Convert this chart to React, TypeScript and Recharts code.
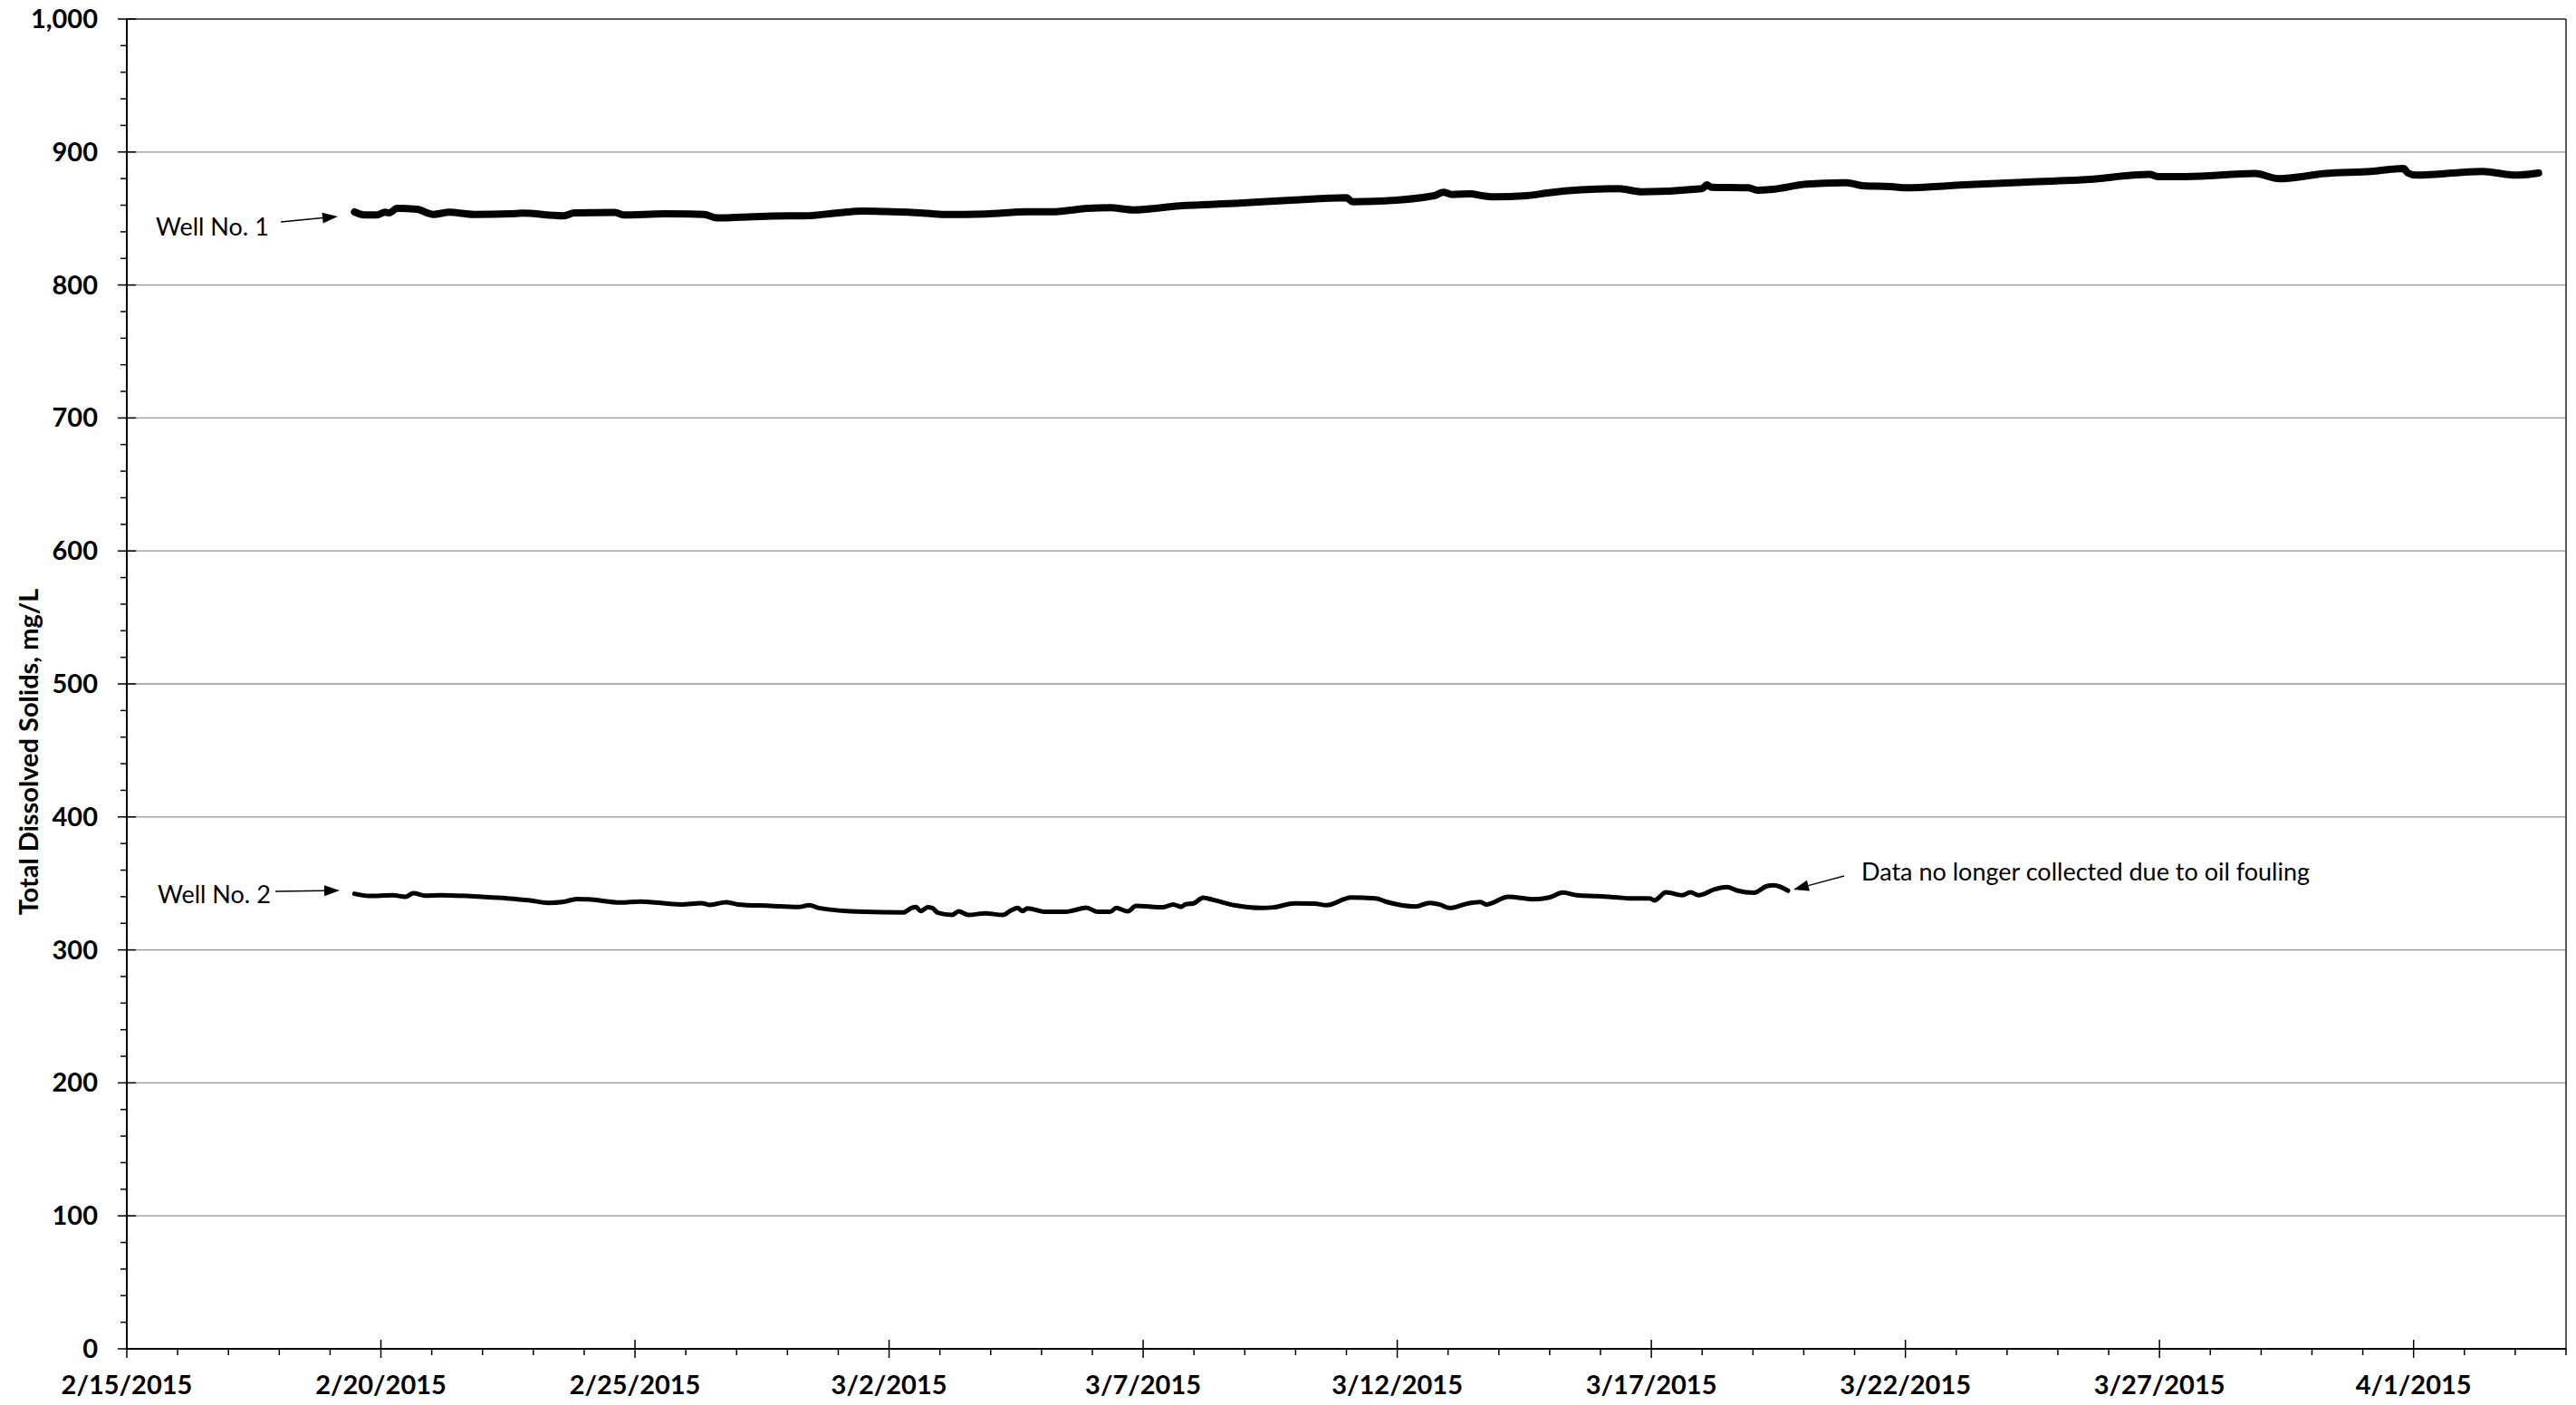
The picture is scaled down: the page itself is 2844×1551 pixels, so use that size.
import React from "react";
import {
  CartesianGrid,
  Line,
  LineChart,
  ReferenceLine,
  XAxis,
  YAxis,
} from "recharts";

const FONT = "Lato, 'Open Sans', sans-serif";

// x axis is days since 2/15/2015
const xTickDays = [0, 5, 10, 15, 20, 25, 30, 35, 40, 45];
const xTickLabels = [
  "2/15/2015",
  "2/20/2015",
  "2/25/2015",
  "3/2/2015",
  "3/7/2015",
  "3/12/2015",
  "3/17/2015",
  "3/22/2015",
  "3/27/2015",
  "4/1/2015",
];
const yMajorTicks = [0, 100, 200, 300, 400, 500, 600, 700, 800, 900, 1000];
const yTickLabels = ["0", "100", "200", "300", "400", "500", "600", "700", "800", "900", "1,000"];

const xMinorTicks = Array.from({ length: 49 }, (_, i) => i);
const yMinorTicks = Array.from({ length: 51 }, (_, i) => i * 20);

const well1Days = [
  4.48, 4.68, 4.92, 5.08, 5.16, 5.32, 5.71, 6.03, 6.35, 6.83,
  7.55, 7.78, 8.58, 8.81, 9.61, 9.77, 10.58, 11.36, 11.61, 12.31,
  12.7, 13.36, 14.0, 14.48, 14.96, 15.62, 16.1, 16.9, 17.72, 18.2,
  18.69, 18.9, 19.35, 19.81, 20.72, 21.89, 22.99, 24.0, 24.12, 24.53,
  25.73, 25.91, 26.08, 26.45, 26.63, 26.9, 27.55, 27.99, 29.36, 29.81,
  31.0, 31.09, 31.18, 31.91, 32.09, 32.33, 33.05, 33.84, 34.16, 34.72,
  34.96, 36.16, 37.3, 38.54, 39.81, 39.97, 40.52, 41.88, 42.36, 43.26,
  44.16, 44.8, 44.89, 45.05, 46.35, 47.01, 47.46,
];
const well1Tds = [
  854.9, 852.7, 852.7, 854.7, 854.2, 857.6, 856.9, 853.1, 854.7, 853.1,
  853.5, 854.0, 852.0, 854.2, 854.5, 852.7, 853.5, 853.1, 850.4, 851.3,
  851.9, 852.0, 854.3, 855.6, 855.2, 854.3, 853.0, 853.4, 855.0, 855.0,
  856.8, 857.6, 858.1, 856.5, 859.5, 861.5, 864.0, 865.6, 862.6, 862.9,
  867.2, 869.7, 868.1, 868.6, 867.4, 866.3, 867.2, 869.4, 872.4, 870.1,
  872.4, 875.3, 873.5, 873.1, 871.3, 871.7, 875.8, 876.9, 874.7, 874.0,
  873.1, 875.3, 877.2, 879.2, 883.1, 881.5, 881.5, 883.8, 879.9, 883.8,
  885.4, 887.6, 884.2, 882.6, 885.4, 882.6, 884.2,
];

const well2Days = [
  4.48, 4.76, 5.24, 5.48, 5.64, 5.87, 6.19, 6.99, 7.49, 7.94,
  8.29, 8.6, 8.85, 9.08, 9.72, 10.11, 10.91, 11.31, 11.47, 11.79,
  12.02, 12.66, 13.21, 13.43, 13.62, 14.5, 15.28, 15.44, 15.53, 15.62,
  15.76, 15.85, 15.96, 16.24, 16.37, 16.56, 16.89, 17.24, 17.4, 17.53,
  17.63, 17.72, 18.08, 18.47, 18.63, 18.88, 19.11, 19.35, 19.47, 19.7,
  19.86, 20.39, 20.59, 20.75, 20.83, 20.99, 21.18, 21.38, 21.79, 22.34,
  22.57, 22.98, 23.37, 23.61, 24.09, 24.57, 24.8, 25.36, 25.64, 25.83,
  26.03, 26.4, 26.64, 26.75, 27.19, 27.67, 27.99, 28.26, 28.54, 28.94,
  29.35, 29.58, 29.97, 30.06, 30.29, 30.61, 30.77, 30.93, 31.25, 31.49,
  31.7, 32.02, 32.27, 32.41, 32.69,
];
const well2Tds = [
  342.2, 340.6, 341.1, 339.9, 342.6, 340.8, 341.1, 339.9, 338.8, 337.2,
  335.4, 336.2, 338.3, 338.0, 335.6, 336.4, 334.2, 335.2, 333.8, 335.9,
  334.2, 333.1, 332.2, 333.6, 331.5, 328.6, 328.1, 331.5, 332.2, 329.2,
  332.0, 331.5, 327.9, 326.3, 329.0, 326.3, 327.5, 326.3, 329.7, 331.5,
  329.2, 331.3, 328.6, 328.6, 329.7, 331.7, 328.6, 328.6, 331.5, 329.0,
  333.1, 332.0, 334.2, 332.4, 334.2, 335.0, 339.2, 337.6, 333.6, 331.5,
  332.0, 335.0, 334.8, 333.6, 339.4, 338.8, 336.0, 332.6, 335.4, 334.2,
  331.5, 335.0, 336.0, 334.2, 339.9, 338.1, 339.4, 343.1, 341.1, 340.4,
  339.4, 338.8, 338.8, 337.2, 343.3, 341.1, 343.3, 341.1, 345.6, 347.2,
  344.5, 342.9, 347.9, 348.6, 344.5,
];

const well1Data = well1Days.map((day, i) => ({ day, tds: well1Tds[i] }));
const well2Data = well2Days.map((day, i) => ({ day, tds: well2Tds[i] }));

const XTick = (props: any) => {
  const { x, y, payload } = props;
  const idx = xTickDays.indexOf(payload.value);
  const major = idx >= 0;
  return (
    <g>
      <line
        x1={x}
        x2={x}
        y1={major ? y - 10 : y}
        y2={major ? y + 10 : y + 7}
        stroke="#000"
        strokeWidth={1.5}
      />
      {major && (
        <text
          x={x}
          y={y + 50}
          textAnchor="middle"
          fontFamily={FONT}
          fontWeight={700}
          fontSize={29}
          fill="#000"
        >
          {xTickLabels[idx]}
        </text>
      )}
    </g>
  );
};

const YTick = (props: any) => {
  const { x, y, payload } = props;
  const idx = yMajorTicks.indexOf(payload.value);
  const major = idx >= 0;
  return (
    <g>
      <line
        x1={major ? x - 10 : x - 7}
        x2={major ? x + 10 : x}
        y1={y}
        y2={y}
        stroke="#000"
        strokeWidth={1.5}
      />
      {major && (
        <text
          x={x - 32}
          y={y + 10}
          textAnchor="end"
          fontFamily={FONT}
          fontWeight={700}
          fontSize={29}
          fill="#000"
        >
          {yTickLabels[idx]}
        </text>
      )}
    </g>
  );
};

const Arrow = ({ x1, y1, x2, y2 }: { x1: number; y1: number; x2: number; y2: number }) => {
  const a = Math.atan2(y2 - y1, x2 - x1);
  const len = 17;
  const hw = 6;
  const bx = x2 - len * Math.cos(a);
  const by = y2 - len * Math.sin(a);
  const px = -Math.sin(a) * hw;
  const py = Math.cos(a) * hw;
  return (
    <g>
      <line x1={x1} y1={y1} x2={bx} y2={by} stroke="#000" strokeWidth={1.5} />
      <polygon
        points={`${x2},${y2} ${bx + px},${by + py} ${bx - px},${by - py}`}
        fill="#000"
      />
    </g>
  );
};

const noteStyle = { fontFamily: FONT, fontSize: 27, fill: "#000" };

export default function App() {
  return (
    <div
      style={{
        position: "absolute",
        left: 0,
        top: 0,
        width: 2844,
        height: 1551,
        background: "#fff",
      }}
    >
      <LineChart
        width={2844}
        height={1551}
        margin={{ top: 21, right: 11, bottom: 0, left: 0 }}
      >
        <CartesianGrid
          vertical={false}
          horizontalValues={[100, 200, 300, 400, 500, 600, 700, 800, 900]}
          stroke="#939393"
          strokeWidth={1.3}
        />
        <XAxis
          type="number"
          dataKey="day"
          domain={[0, 48]}
          ticks={xMinorTicks}
          interval={0}
          tick={<XTick />}
          tickLine={false}
          tickSize={0}
          tickMargin={0}
          height={62}
          axisLine={{ stroke: "#000", strokeWidth: 2 }}
          allowDataOverflow
        />
        <YAxis
          type="number"
          domain={[0, 1000]}
          ticks={yMinorTicks}
          interval={0}
          tick={<YTick />}
          tickLine={false}
          tickSize={0}
          tickMargin={0}
          width={140}
          axisLine={{ stroke: "#000", strokeWidth: 2 }}
        />
        <ReferenceLine y={1000} stroke="#222" strokeWidth={1.5} />
        <ReferenceLine x={48} stroke="#222" strokeWidth={1.5} />
        <Line
          data={well2Data}
          dataKey="tds"
          type="monotone"
          stroke="#000"
          strokeWidth={5}
          strokeLinecap="round"
          strokeLinejoin="round"
          dot={false}
          isAnimationActive={false}
        />
        <Line
          data={well1Data}
          dataKey="tds"
          type="monotone"
          stroke="#000"
          strokeWidth={8}
          strokeLinecap="round"
          strokeLinejoin="round"
          dot={false}
          isAnimationActive={false}
        />
      </LineChart>
      <svg
        width={2844}
        height={1551}
        style={{ position: "absolute", left: 0, top: 0, pointerEvents: "none" }}
      >
        <text
          transform="translate(42, 830) rotate(-90)"
          textAnchor="middle"
          fontFamily={FONT}
          fontWeight={700}
          fontSize={29}
          fill="#000"
        >
          Total Dissolved Solids, mg/L
        </text>
        <text x={172} y={260} {...noteStyle}>
          Well No. 1
        </text>
        <Arrow x1={310} y1={245} x2={373} y2={239} />
        <text x={174} y={997} {...noteStyle}>
          Well No. 2
        </text>
        <Arrow x1={304} y1={984} x2={375} y2={983} />
        <text x={2055} y={972} {...noteStyle}>
          Data no longer collected due to oil fouling
        </text>
        <Arrow x1={2036} y1={967} x2={1980} y2={982} />
      </svg>
    </div>
  );
}
